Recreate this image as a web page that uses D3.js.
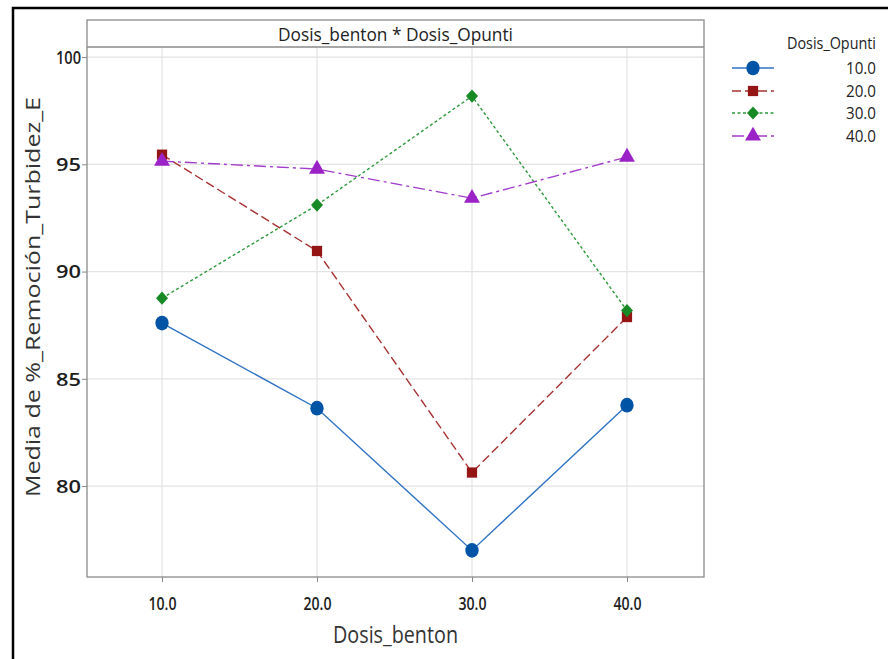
<!DOCTYPE html>
<html>
<head>
<meta charset="utf-8">
<script src="https://cdn.jsdelivr.net/npm/d3@7"></script>
<style>
  html, body { margin: 0; padding: 0; background: #fff; }
  svg { display: block; }
  text { font-family: "Open Sans", "Noto Sans", sans-serif; }
</style>
</head>
<body>
<svg id="chart" width="888" height="659"></svg>
<script>
// ---- data ----
const xCategories = [10, 20, 30, 40];
const xTickLabels = ["10.0", "20.0", "30.0", "40.0"];
const yTicks = [80, 85, 90, 95, 100];
const seriesNames = ["10.0", "20.0", "30.0", "40.0"];
const series10 = [87.6, 83.63, 77.0, 83.77];
const series20 = [95.45, 90.96, 80.63, 87.88];
const series30 = [88.76, 93.1, 98.18, 88.18];
const series40 = [95.15, 94.78, 93.42, 95.34];
const chartTitle = "Dosis_benton * Dosis_Opunti";
const xTitle = "Dosis_benton";
const yTitle = "Media de %_Remoción_Turbidez_E";
const legendTitle = "Dosis_Opunti";

const allSeries = [series10, series20, series30, series40];
const styles = [
  { line: "#2f72c4", fill: "#0054a6", dash: null, sym: d3.symbolCircle, size: 140, rot: 0, sy: 1.1 },
  { line: "#a83232", fill: "#951515", dash: "9,4", sym: d3.symbolSquare, size: 105, rot: 0, sy: 1.0 },
  { line: "#2d9a3c", fill: "#178a25", dash: "3,2.5", sym: d3.symbolSquare, size: 72, rot: 45, sy: 1.1 },
  { line: "#a23ccc", fill: "#9a22c6", dash: "12,4,3,4", sym: d3.symbolTriangle, size: 110, rot: 0, sy: 1.0 }
];

const svg = d3.select("#chart");

// outer black frame
svg.append("rect").attr("x", 13).attr("y", 8).attr("width", 1000).attr("height", 1000)
  .attr("fill", "none").attr("stroke", "#000").attr("stroke-width", 2.5);

const L = 87, R = 704, T = 47, B = 577;
const x = d3.scaleLinear().domain([5.16, 44.97]).range([L, R]);
const y = d3.scaleLinear().domain([75.76, 100.47]).range([B, T]);

// gridlines
svg.append("g").selectAll("line").data(yTicks).join("line")
  .attr("x1", L).attr("x2", R).attr("y1", d => y(d)).attr("y2", d => y(d))
  .attr("stroke", "#e3e3e3").attr("stroke-width", 1.2);
svg.append("g").selectAll("line").data(xCategories).join("line")
  .attr("y1", T).attr("y2", B).attr("x1", d => x(d)).attr("x2", d => x(d))
  .attr("stroke", "#e3e3e3").attr("stroke-width", 1.2);

// axes
const yAxis = d3.axisLeft(y).tickValues(yTicks).tickSize(5).tickSizeOuter(0).tickFormat(d3.format("d"));
const xAxis = d3.axisBottom(x).tickValues(xCategories).tickSize(5).tickSizeOuter(0)
  .tickFormat((d, i) => xTickLabels[i]);
const gy = svg.append("g").attr("transform", `translate(${L},0)`).call(yAxis);
const gx = svg.append("g").attr("transform", `translate(0,${B})`).call(xAxis);
[gy, gx].forEach(g => {
  g.select(".domain").remove();
  g.selectAll(".tick line").attr("stroke", "#8a8a8a");
  g.selectAll(".tick text").attr("fill", "#1e1e1e").attr("font-size", 18)
    .attr("font-weight", 600).style("font-family", "'Open Sans', sans-serif");
});
gy.selectAll(".tick text").attr("x", -6).attr("dy", "0.35em")
  .attr("textLength", 25).attr("lengthAdjust", "spacingAndGlyphs");
gx.selectAll(".tick text").attr("y", 20)
  .attr("textLength", 28).attr("lengthAdjust", "spacingAndGlyphs");

// plot frame + strip
svg.append("rect").attr("x", L).attr("y", 20).attr("width", R - L).attr("height", B - 20)
  .attr("fill", "none").attr("stroke", "#8a8a8a").attr("stroke-width", 1.3);
svg.append("line").attr("x1", L).attr("x2", R).attr("y1", T).attr("y2", T)
  .attr("stroke", "#8a8a8a").attr("stroke-width", 1.3);
svg.append("text").attr("x", (L + R) / 2).attr("y", 41).attr("text-anchor", "middle")
  .attr("font-size", 19).attr("fill", "#222").attr("textLength", 235)
  .attr("lengthAdjust", "spacingAndGlyphs").text(chartTitle);

// series
const line = d3.line().x((d, i) => x(xCategories[i])).y(d => y(d));
allSeries.forEach((vals, k) => {
  const st = styles[k];
  svg.append("path").datum(vals).attr("d", line).attr("fill", "none")
    .attr("stroke", st.line).attr("stroke-width", 1.4)
    .attr("stroke-dasharray", st.dash);
});
allSeries.forEach((vals, k) => {
  const st = styles[k];
  svg.append("g").selectAll("path").data(vals).join("path")
    .attr("d", d3.symbol().type(st.sym).size(st.size))
    .attr("transform", (d, i) => `translate(${x(xCategories[i])},${y(d)}) scale(1,${st.sy}) rotate(${st.rot})`)
    .attr("fill", st.fill);
});

// axis titles
svg.append("text").attr("x", (L + R) / 2).attr("y", 643).attr("text-anchor", "middle")
  .attr("font-size", 23).attr("fill", "#333").attr("textLength", 125)
  .attr("lengthAdjust", "spacingAndGlyphs").text(xTitle);
svg.append("text").attr("transform", "translate(40,297) rotate(-90)").attr("text-anchor", "middle")
  .attr("font-size", 20).attr("fill", "#333").attr("textLength", 400)
  .attr("lengthAdjust", "spacingAndGlyphs").text(yTitle);

// legend
const lg = svg.append("g");
lg.append("text").attr("x", 876).attr("y", 49).attr("text-anchor", "end")
  .attr("font-size", 16).attr("fill", "#222").attr("textLength", 89)
  .attr("lengthAdjust", "spacingAndGlyphs").text(legendTitle);
const rowY = [68, 91, 113, 136];
seriesNames.forEach((name, k) => {
  const st = styles[k];
  const yy = rowY[k];
  lg.append("line").attr("x1", 732).attr("x2", 774).attr("y1", yy).attr("y2", yy)
    .attr("stroke", st.line).attr("stroke-width", 1.4).attr("stroke-dasharray", st.dash);
  lg.append("path").attr("d", d3.symbol().type(st.sym).size(st.size))
    .attr("transform", `translate(753,${yy}) scale(1,${st.sy}) rotate(${st.rot})`).attr("fill", st.fill);
  lg.append("text").attr("x", 876).attr("y", yy + 6).attr("text-anchor", "end")
    .attr("font-size", 16).attr("fill", "#222").attr("textLength", 30)
    .attr("lengthAdjust", "spacingAndGlyphs").text(name);
});
</script>
</body>
</html>
